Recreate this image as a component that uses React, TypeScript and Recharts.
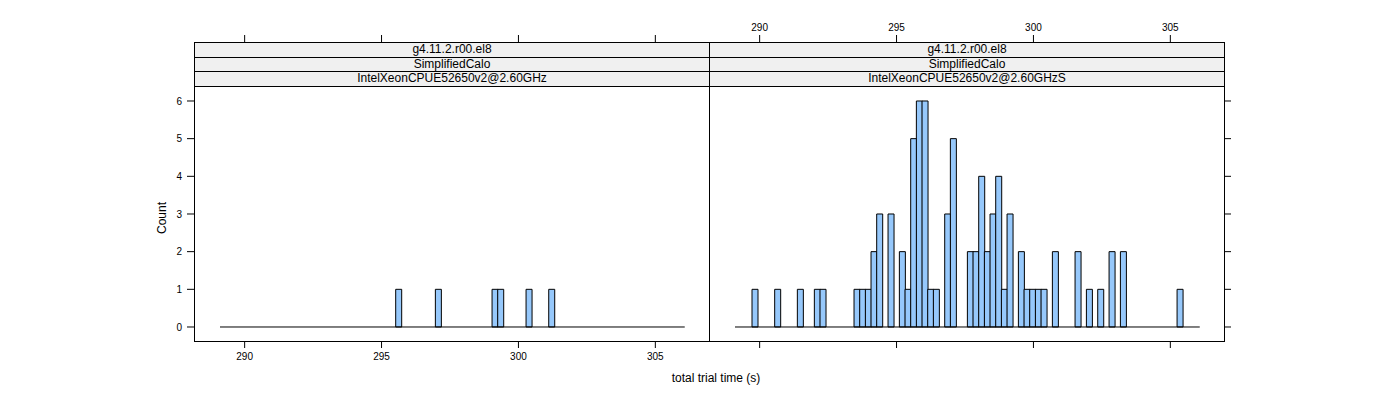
import React from 'react';
import { BarChart, Bar, XAxis, YAxis, ReferenceLine } from 'recharts';

// histogram breaks shared by both panels
const BIN_START = 289.1;
const BIN_WIDTH = 0.207;
const BIN_COUNT = 82;

const X_DOMAIN: [number, number] = [288.15, 306.96];
const Y_DOMAIN: [number, number] = [-0.372, 7.566];
const X_TICKS = [290, 295, 300, 305];
const Y_TICKS = [0, 1, 2, 3, 4, 5, 6];

const stripTop = ['g4.11.2.r00.el8', 'SimplifiedCalo'];
const hostLeft = 'IntelXeonCPUE52650v2@2.60GHz';
const hostRight = 'IntelXeonCPUE52650v2@2.60GHzS';

// non-empty bins (index into the breaks) and their counts
const leftBins = [31, 38, 48, 49, 54, 58];
const leftCounts = [1, 1, 1, 1, 1, 1];

const rightBins = [
  3, 7, 11, 14, 15, 21, 22, 23, 24, 25, 27, 29, 30, 31, 32, 33, 34, 35, 37, 38,
  41, 42, 43, 44, 45, 46, 47, 48, 50, 51, 52, 53, 54, 56, 60, 62, 64, 66, 68, 78,
];
const rightCounts = [
  1, 1, 1, 1, 1, 1, 1, 1, 2, 3, 3, 2, 1, 5, 6, 6, 1, 1, 3, 5,
  2, 2, 4, 2, 3, 4, 1, 3, 2, 1, 1, 1, 1, 2, 2, 1, 1, 2, 2, 1,
];

const FONT = '"Liberation Sans", Arial, Helvetica, sans-serif';
const FILL = '#96c8fb';

const PLOT_TOP = 42;
const PLOT_BOTTOM = 341;
const PANEL_W = 515;
const LEFT_X = 194;
const RIGHT_X = LEFT_X + PANEL_W;
const W = 1400;
const H = 400;

function toTable(bins: number[], counts: number[]) {
  const rows = [];
  for (let i = 0; i < BIN_COUNT; i++) {
    const j = bins.indexOf(i);
    rows.push({
      bin: i,
      mid: BIN_START + (i + 0.5) * BIN_WIDTH,
      count: j >= 0 ? counts[j] : 0,
    });
  }
  return rows;
}

const span = X_DOMAIN[1] - X_DOMAIN[0];
const binEnd = BIN_START + BIN_COUNT * BIN_WIDTH;
const padL = ((BIN_START - X_DOMAIN[0]) / span) * PANEL_W;
const padR = ((X_DOMAIN[1] - binEnd) / span) * PANEL_W;

const tickStyle = { fontSize: 10, fill: '#000', fontFamily: FONT };
const blank = () => '';
const asIs = (v: number) => String(v);

function Panel({ data, side }: { data: any[]; side: 'left' | 'right' }) {
  const isLeft = side === 'left';
  const x0 = isLeft ? LEFT_X : RIGHT_X;
  return (
    <div style={{ position: 'absolute', left: 0, top: 0 }}>
      <BarChart
        width={W}
        height={H}
        data={data}
        barCategoryGap={0}
        barGap={0}
        margin={{
          top: 0,
          bottom: 0,
          left: isLeft ? 0 : x0,
          right: isLeft ? W - (x0 + PANEL_W) : 0,
        }}
      >
        <XAxis
          xAxisId="top"
          orientation="top"
          dataKey="mid"
          type="number"
          domain={X_DOMAIN}
          allowDataOverflow
          ticks={X_TICKS}
          height={PLOT_TOP}
          axisLine={false}
          tickSize={7}
          tickMargin={4}
          tickLine={{ stroke: '#000' }}
          tick={tickStyle}
          tickFormatter={isLeft ? blank : asIs}
        />
        <XAxis
          xAxisId="bottom"
          orientation="bottom"
          dataKey="mid"
          type="number"
          domain={X_DOMAIN}
          allowDataOverflow
          ticks={X_TICKS}
          height={H - PLOT_BOTTOM}
          axisLine={false}
          tickSize={7}
          tickMargin={5}
          tickLine={{ stroke: '#000' }}
          tick={tickStyle}
          tickFormatter={isLeft ? asIs : blank}
        />
        <XAxis
          xAxisId="bin"
          dataKey="bin"
          type="category"
          hide
          height={0}
          padding={{ left: padL, right: padR }}
        />
        <YAxis
          orientation={isLeft ? 'left' : 'right'}
          width={isLeft ? x0 : W - (x0 + PANEL_W)}
          type="number"
          domain={Y_DOMAIN}
          allowDataOverflow
          ticks={Y_TICKS}
          axisLine={false}
          tickSize={7}
          tickMargin={5}
          tickLine={{ stroke: '#000' }}
          tick={tickStyle}
          tickFormatter={isLeft ? asIs : blank}
        />
        <Bar
          xAxisId="bin"
          dataKey="count"
          fill={FILL}
          stroke="#000"
          strokeWidth={1}
          isAnimationActive={false}
        />
        <ReferenceLine
          xAxisId="bottom"
          segment={[
            { x: BIN_START, y: 0 },
            { x: binEnd, y: 0 },
          ]}
          stroke="#000"
        />
      </BarChart>
    </div>
  );
}

function Strips({ x, host }: { x: number; host: string }) {
  const rows = [...stripTop, host];
  return (
    <div
      style={{
        position: 'absolute',
        left: x,
        top: PLOT_TOP,
        width: PANEL_W + 1,
        height: 45,
        boxSizing: 'border-box',
        border: '1px solid #000',
        display: 'flex',
        flexDirection: 'column',
        background: '#f0f0f0',
      }}
    >
      {rows.map((r, i) => (
        <div
          key={i}
          style={{
            flex: 1,
            borderTop: i > 0 ? '1px solid #000' : 'none',
            fontSize: 12,
            lineHeight: '13px',
            textAlign: 'center',
            color: '#000',
          }}
        >
          {r}
        </div>
      ))}
    </div>
  );
}

export default function App() {
  const left = toTable(leftBins, leftCounts);
  const right = toTable(rightBins, rightCounts);
  return (
    <div
      style={{
        position: 'absolute',
        left: 0,
        top: 0,
        width: W,
        height: H,
        background: '#fff',
        fontFamily: FONT,
      }}
    >
      <Panel data={left} side="left" />
      <Panel data={right} side="right" />
      {[LEFT_X, RIGHT_X].map((x) => (
        <div
          key={x}
          style={{
            position: 'absolute',
            left: x,
            top: PLOT_TOP,
            width: PANEL_W + 1,
            height: PLOT_BOTTOM - PLOT_TOP + 1,
            boxSizing: 'border-box',
            border: '1px solid #000',
          }}
        />
      ))}
      <Strips x={LEFT_X} host={hostLeft} />
      <Strips x={RIGHT_X} host={hostRight} />
      <div
        style={{
          position: 'absolute',
          left: 162,
          top: 218,
          transform: 'translate(-50%, -50%) rotate(-90deg)',
          fontSize: 12,
          whiteSpace: 'nowrap',
        }}
      >
        Count
      </div>
      <div
        style={{
          position: 'absolute',
          left: 716,
          top: 378,
          transform: 'translate(-50%, -50%)',
          fontSize: 12,
          whiteSpace: 'nowrap',
        }}
      >
        total trial time (s)
      </div>
    </div>
  );
}
